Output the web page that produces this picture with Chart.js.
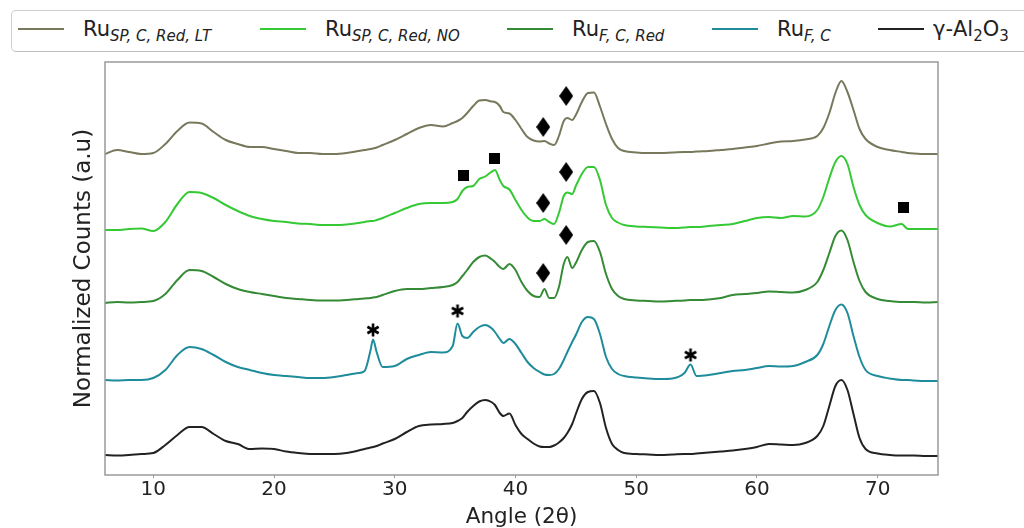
<!DOCTYPE html>
<html>
<head>
<meta charset="utf-8">
<script src="https://cdn.jsdelivr.net/npm/chart.js@4.4.1/dist/chart.umd.min.js"></script>
<style>
  html, body { margin: 0; padding: 0; background: #fff; overflow: hidden; }
  #wrap { position: relative; width: 1024px; height: 528px; }
  #legend {
    position: absolute; left: 11px; top: 10px; width: 1060px; height: 42px;
    box-sizing: border-box; border: 1px solid #cfcfcf; border-bottom-color: #bdbdbd; border-radius: 5px;
    display: flex; align-items: center; padding-left: 6px; padding-bottom: 4px;
    font-family: 'DejaVu Sans'; color: #222; background: #fff;
  }
  .item { display: flex; align-items: center; white-space: nowrap; flex: none; }
  .swatch { display: inline-block; width: 46px; height: 2px; }
  .lbl { font-size: 21px; }
  .sub { font-size: 15px; font-style: italic; position: relative; top: 5px; }
  .num { font-size: 15px; position: relative; top: 5px; }
</style>
</head>
<body>
<div id="wrap">
  <canvas id="chart" width="1024" height="528"></canvas>
  <div id="legend"></div>
</div>
<script>
// 2-theta grid the patterns were read on
const angles = [
  6, 7, 8, 9, 10, 11, 12, 13, 14, 15,
  16, 17, 18, 19, 20, 21, 22, 23, 24, 25,
  26, 27, 27.5, 28, 28.2, 28.5, 29, 30, 31, 32,
  33, 34, 34.8, 35.2, 35.6, 36, 36.5, 37, 37.5, 38,
  38.3, 38.7, 39, 39.5, 40, 40.5, 41, 41.5, 42, 42.4,
  42.8, 43.2, 43.6, 44, 44.3, 44.7, 45, 45.5, 46, 46.5,
  47, 47.5, 48, 48.5, 49, 50, 51, 52, 53, 54,
  54.5, 55, 56, 57, 58, 59, 60, 61, 62, 63,
  64, 65, 65.5, 66, 66.5, 67, 67.5, 68, 68.5, 69,
  70, 71, 72, 72.5, 73, 74, 75
];

// stacked (offset) normalized counts
const ruSpRedLt = [
  32.1, 32.5, 32.3, 32.1, 32.2, 33.1, 34.4, 35.25, 35.15, 34.3,
  33.5, 33.1, 32.8, 32.8, 32.6, 32.4, 32.2, 32.2, 32.1, 32.1,
  32.2, 32.4, 32.5, 32.6, 32.65, 32.75, 33.0, 33.5, 34.1, 34.7,
  35.0, 34.85, 35.2, 35.4, 35.7, 36.2, 36.9, 37.45, 37.5, 37.35,
  37.3, 36.9, 36.3, 36.15, 35.5, 34.6, 33.8, 33.45, 33.35, 33.4,
  33.15, 33.0, 33.9, 35.4, 35.7, 35.5, 36.0, 37.3, 38.2, 38.25,
  36.85, 35.1, 33.6, 32.7, 32.4, 32.25, 32.2, 32.2, 32.25, 32.3,
  32.3, 32.35, 32.4, 32.5, 32.6, 32.75, 32.9, 33.15, 33.35, 33.4,
  33.55, 33.9, 34.7, 36.2, 38.2, 39.4, 38.3, 36.5, 34.6, 33.6,
  32.8, 32.5, 32.3, 32.2, 32.15, 32.1, 32.1
];
const ruSpRedNo = [
  24.5, 24.5, 24.6, 24.65, 24.4, 25.3, 27.1, 28.3, 28.2, 27.7,
  27.0, 26.4, 25.9, 25.6, 25.4, 25.3, 25.15, 25.1, 25.0, 25.0,
  25.05, 25.2, 25.3, 25.4, 25.4, 25.5, 25.7, 26.2, 26.7, 27.1,
  27.2, 27.2, 27.3, 27.6, 28.4, 28.8, 28.9, 29.6, 29.85, 30.3,
  30.5, 29.5, 28.9, 28.55, 27.5, 26.5, 25.75, 25.4, 25.4, 25.6,
  25.3, 25.1, 26.2, 27.9, 28.25, 28.1, 28.9, 30.1, 30.8, 30.8,
  29.5, 27.0, 25.7, 25.25, 25.0, 24.85, 24.8, 24.75, 24.7, 24.75,
  24.8, 24.8, 24.9, 25.0, 25.1, 25.4, 25.7, 25.8, 25.7, 25.9,
  25.85, 26.5, 27.8, 29.7, 31.3, 31.9, 31.1, 28.8, 27.0, 26.0,
  25.2, 24.85, 25.1, 24.6, 24.6, 24.6, 24.6
];
const ruFRed = [
  17.2, 17.3, 17.25, 17.3, 17.4, 18.1, 19.5, 20.5, 20.4, 19.8,
  19.1, 18.6, 18.3, 18.1, 17.9, 17.7, 17.6, 17.5, 17.45, 17.45,
  17.5, 17.6, 17.65, 17.7, 17.75, 17.8, 18.0, 18.4, 18.6, 18.6,
  18.7, 18.8, 19.0, 19.3, 19.9, 20.5, 21.3, 21.8, 21.95, 21.6,
  21.3, 20.8, 20.6, 21.1, 20.5, 19.3, 18.4, 17.9, 17.8, 18.6,
  17.7, 17.7, 18.8, 21.1, 21.8, 20.7, 21.2, 22.5, 23.3, 23.4,
  22.3, 20.1, 18.6, 17.9, 17.6, 17.45, 17.4, 17.35, 17.4, 17.45,
  17.5, 17.5, 17.55, 17.7, 18.0, 18.1, 18.2, 18.35, 18.3, 18.25,
  18.5, 19.3, 20.5, 22.2, 23.9, 24.45, 23.5, 21.3, 19.4, 18.3,
  17.6, 17.4, 17.3, 17.3, 17.3, 17.25, 17.3
];
const ruFC = [
  9.5, 9.45, 9.5, 9.5, 9.7, 10.5, 12.0, 12.8, 12.6, 12.0,
  11.3, 10.8, 10.5, 10.2, 10.0, 9.9, 9.8, 9.7, 9.7, 9.8,
  10.0, 10.2, 10.4, 12.5, 13.55, 12.3, 10.8, 10.9, 11.6, 12.0,
  12.3, 12.25, 12.9, 15.15, 13.9, 13.7, 14.3, 14.8, 15.0, 14.7,
  14.3, 13.6, 13.2, 13.6, 13.1, 12.2, 11.3, 10.7, 10.3, 10.05,
  10.0, 10.1, 10.6, 11.5, 12.3, 13.3, 14.0, 15.3, 15.8, 15.6,
  14.1, 11.8, 10.6, 10.1, 9.9, 9.75, 9.65, 9.6, 9.65, 10.2,
  11.05, 9.9, 10.0, 10.2, 10.4, 10.5, 10.7, 10.9, 10.85, 10.9,
  11.3, 12.0, 13.1, 14.9, 16.5, 17.05, 16.2, 13.9, 11.8, 10.5,
  9.9, 9.65, 9.5, 9.5, 9.45, 9.4, 9.4
];
const alumina = [
  2.0, 1.95, 2.0, 2.1, 2.2, 3.0, 4.0, 4.8, 4.8, 4.1,
  3.4, 3.1, 2.6, 2.65, 2.6, 2.35, 2.2, 2.1, 2.1, 2.1,
  2.2, 2.45, 2.6, 2.75, 2.8, 2.9, 3.15, 3.6, 4.3, 4.9,
  5.05, 5.1, 5.2, 5.4, 5.7, 6.3, 6.9, 7.35, 7.5, 7.3,
  7.0, 6.2, 5.9, 6.15, 5.0, 4.1, 3.6, 3.15, 2.85, 2.8,
  2.8, 2.95, 3.25, 3.7, 4.2, 5.1, 6.1, 7.6, 8.3, 8.4,
  7.2, 4.7, 3.1, 2.5, 2.2, 2.1, 2.05, 2.0, 2.05, 2.1,
  2.1, 2.15, 2.25, 2.35, 2.45, 2.6, 2.8, 3.1, 3.05, 3.0,
  3.2, 3.9, 4.9, 6.9, 8.9, 9.5, 8.5, 6.1, 3.7, 2.6,
  2.15, 2.0, 1.95, 1.95, 1.95, 1.9, 1.9
];

const xTicks = [10, 20, 30, 40, 50, 60, 70];

// peak markers
const asteriskX = [28.2, 35.2, 54.5];
const asteriskY = [14.5, 16.4, 12.0];
const diamondX = [44.2, 42.3, 44.2, 42.3, 44.2, 42.3];
const diamondY = [37.9, 34.8, 30.3, 27.2, 24.0, 20.2];
const squareX = [35.7, 38.3, 72.15];
const squareY = [30.0, 31.7, 26.8];

const seriesNames = ['Ru SP,C,Red,LT', 'Ru SP,C,Red,NO', 'Ru F,C,Red', 'Ru F,C', 'γ-Al2O3'];
const legendLabels = [
  'Ru<span class="sub">SP, C, Red, LT</span>',
  'Ru<span class="sub">SP, C, Red, NO</span>',
  'Ru<span class="sub">F, C, Red</span>',
  'Ru<span class="sub">F, C</span>',
  'γ-Al<span class="num">2</span>O<span class="num">3</span>'
];
const seriesColors = ['#78785c', '#36c936', '#358b35', '#1f8c9c', '#222222'];
const seriesValues = [ruSpRedLt, ruSpRedNo, ruFRed, ruFC, alumina];

// legend item spacing
const legendItemWidths = [242, 247, 205, 166, null];
const legendTextGaps = [19, 19, 19, 19, 9];

function makeCanvas(w, h, draw) {
  const c = document.createElement('canvas');
  c.width = w; c.height = h;
  draw(c.getContext('2d'));
  return c;
}
const diamondImg = makeCanvas(14, 20, g => {
  g.fillStyle = '#000';
  g.beginPath(); g.moveTo(7, 0); g.lineTo(14, 10); g.lineTo(7, 20); g.lineTo(0, 10); g.closePath(); g.fill();
});
const squareImg = makeCanvas(11, 11, g => { g.fillStyle = '#000'; g.fillRect(0, 0, 11, 11); });
const asteriskImg = makeCanvas(16, 16, g => {
  g.strokeStyle = '#000'; g.lineWidth = 2.6;
  [90, 30, 150].forEach(d => {
    const r = d * Math.PI / 180;
    g.beginPath();
    g.moveTo(8 - 6.5 * Math.cos(r), 8 - 6.5 * Math.sin(r));
    g.lineTo(8 + 6.5 * Math.cos(r), 8 + 6.5 * Math.sin(r));
    g.stroke();
  });
});

const lineSets = seriesValues.map((vals, i) => ({
  label: seriesNames[i],
  data: angles.map((a, j) => ({ x: a, y: vals[j] })),
  borderColor: seriesColors[i],
  borderWidth: 2,
  pointRadius: 0,
  cubicInterpolationMode: 'monotone',
  order: 1
}));

function markerSet(name, xs, ys, img) {
  return {
    type: 'scatter', label: name, showLine: false,
    data: xs.map((x, i) => ({ x: x, y: ys[i] })),
    pointStyle: img, pointRadius: 6, order: 0
  };
}

// border round the plot area
const frame = {
  id: 'frame',
  afterDatasetsDraw(chart) {
    const { ctx, chartArea: a } = chart;
    ctx.save();
    ctx.strokeStyle = '#9a9a9a';
    ctx.lineWidth = 1.5;
    ctx.strokeRect(a.left, a.top, a.right - a.left, a.bottom - a.top);
    ctx.restore();
  }
};

// legend as html so the subscripts can be written
const htmlLegend = {
  id: 'htmlLegend',
  afterUpdate(chart) {
    const box = document.getElementById('legend');
    box.innerHTML = '';
    chart.data.datasets.forEach((ds, i) => {
      if (ds.type === 'scatter') return;
      const item = document.createElement('div');
      item.className = 'item';
      if (legendItemWidths[i]) item.style.width = legendItemWidths[i] + 'px';
      const sw = document.createElement('span');
      sw.className = 'swatch';
      sw.style.background = ds.borderColor;
      sw.style.marginRight = legendTextGaps[i] + 'px';
      const txt = document.createElement('span');
      txt.className = 'lbl';
      txt.innerHTML = legendLabels[i];
      item.append(sw, txt);
      box.appendChild(item);
    });
  }
};

new Chart(document.getElementById('chart'), {
  type: 'line',
  data: {
    datasets: lineSets.concat([
      markerSet('asterisk', asteriskX, asteriskY, asteriskImg),
      markerSet('diamond', diamondX, diamondY, diamondImg),
      markerSet('square', squareX, squareY, squareImg)
    ])
  },
  options: {
    responsive: false,
    animation: false,
    devicePixelRatio: 1,
    layout: { padding: { top: 62, right: 86, bottom: 0, left: 0 } },
    plugins: { legend: { display: false }, tooltip: { enabled: false } },
    scales: {
      x: {
        type: 'linear', min: 6, max: 75,
        afterBuildTicks: s => { s.ticks = xTicks.map(v => ({ value: v })); },
        afterFit: s => { s.height = 53; },
        grid: { drawOnChartArea: false, drawTicks: true, tickLength: 3, color: '#999' },
        border: { display: false },
        ticks: { font: { family: 'DejaVu Sans', size: 20 }, color: '#222', padding: 0, maxRotation: 0 },
        title: {
          display: true, text: 'Angle (2θ)', color: '#222', padding: 0,
          font: { family: 'DejaVu Sans', size: 21.5, lineHeight: 1 }
        }
      },
      y: {
        min: 0, max: 41.3,
        afterFit: s => { s.width = 105; },
        grid: { display: false },
        border: { display: false },
        ticks: { display: false },
        title: {
          display: true, text: 'Normalized Counts (a.u)', color: '#222',
          padding: { top: 70, bottom: 0 },
          font: { family: 'DejaVu Sans', size: 23 }
        }
      }
    }
  },
  plugins: [frame, htmlLegend]
});
</script>
</body>
</html>
